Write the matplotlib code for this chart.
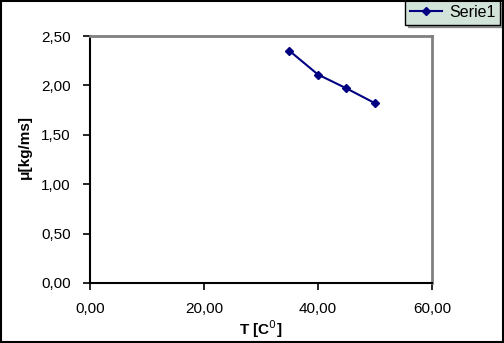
import matplotlib
matplotlib.use("Agg")
import matplotlib.pyplot as plt
from matplotlib.ticker import FuncFormatter, MultipleLocator
from matplotlib.patches import Rectangle

plt.rcParams['font.family'] = ['Liberation Sans', 'DejaVu Sans']

# datos
temp = [35, 40, 45, 50]
visc = [2.35, 2.11, 1.97, 1.82]
serie = "Serie1"

fig = plt.figure(figsize=(5.04, 3.43), dpi=100)
ax = fig.add_axes([0.1786, 0.175, 0.857 - 0.1786, 0.895 - 0.175])

ax.plot(temp, visc, color="#000080", marker="D", markersize=4.5, linewidth=1.5, label=serie)

ax.set_xlim(0, 60)
ax.set_ylim(0, 2.5)
ax.xaxis.set_major_locator(MultipleLocator(20))
ax.yaxis.set_major_locator(MultipleLocator(0.5))
fmt = FuncFormatter(lambda v, p: f"{v:.2f}".replace(".", ","))
ax.xaxis.set_major_formatter(fmt)
ax.yaxis.set_major_formatter(fmt)
ax.tick_params(labelsize=11, direction="out", length=5, width=1.2, pad=9)

ax.spines['top'].set_color("#808080")
ax.spines['right'].set_color("#808080")
ax.spines['top'].set_linewidth(2)
ax.spines['right'].set_linewidth(2)
ax.spines['left'].set_linewidth(1.5)
ax.spines['bottom'].set_linewidth(1.5)

ax.set_xlabel("T [C$^0$]", fontsize=11, fontweight="bold", labelpad=1)
ax.set_ylabel("μ[kg/ms]", fontsize=11, fontweight="bold")
ax.yaxis.set_label_coords(-0.17, 0.55)

leg = ax.legend(loc="upper right", bbox_to_anchor=(0.992, 1.0), bbox_transform=fig.transFigure,
                fontsize=11.5, frameon=True, fancybox=False, shadow=True,
                handlelength=2.0, handletextpad=0.45, borderpad=0.3, borderaxespad=0)
leg.get_frame().set_facecolor("#d2e3da")
leg.get_frame().set_edgecolor("black")
leg.get_frame().set_alpha(1)

# borde de la figura
fig.patches.append(Rectangle((0.002, 0.003), 0.996, 0.994, transform=fig.transFigure,
                             fill=False, edgecolor="black", linewidth=1.5))

fig.savefig("out.png", dpi=100)
